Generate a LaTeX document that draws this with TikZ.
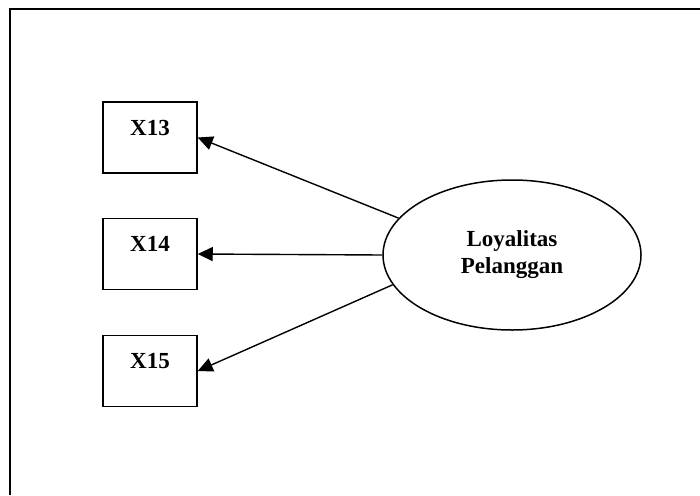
\documentclass[tikz,border=0pt]{standalone}
\usepackage{fontspec}
\setmainfont{Liberation Serif}
\usetikzlibrary{shapes.geometric,arrows.meta}

\begin{document}
\begin{tikzpicture}[x=1pt,y=-1pt,
		indbox/.style={draw, line width=1.5pt, inner sep=0pt, minimum width=94pt,
			text height=33pt, text depth=38pt, font=\fontsize{23}{27}\selectfont\bfseries},
		latent/.style={draw, ellipse, line width=1.5pt, inner sep=0pt, minimum width=258pt,
			minimum height=150pt, align=center, font=\fontsize{23}{27}\selectfont\bfseries},
		load/.style={-{Triangle[length=15pt,width=14pt]}, line width=1.4pt}]
	\useasboundingbox (0,0) rectangle (700,495);

	% frame
	\draw[line width=2.5pt] (700,9) -- (10,9) -- (10,495);

	% indicators
	\node[indbox] (x13) at (150,137.5) {X13};
	\node[indbox] (x14) at (150,254) {X14};
	\node[indbox] (x15) at (150,371) {X15};

	% construct
	\node[latent] (lp) at (512,255) {Loyalitas\\Pelanggan};

	% loadings
	\draw[load] (lp.162) -- (x13.east);
	\draw[load] (lp.west) -- (x14.east);
	\draw[load] (lp.194) -- (x15.east);
\end{tikzpicture}
\end{document}
